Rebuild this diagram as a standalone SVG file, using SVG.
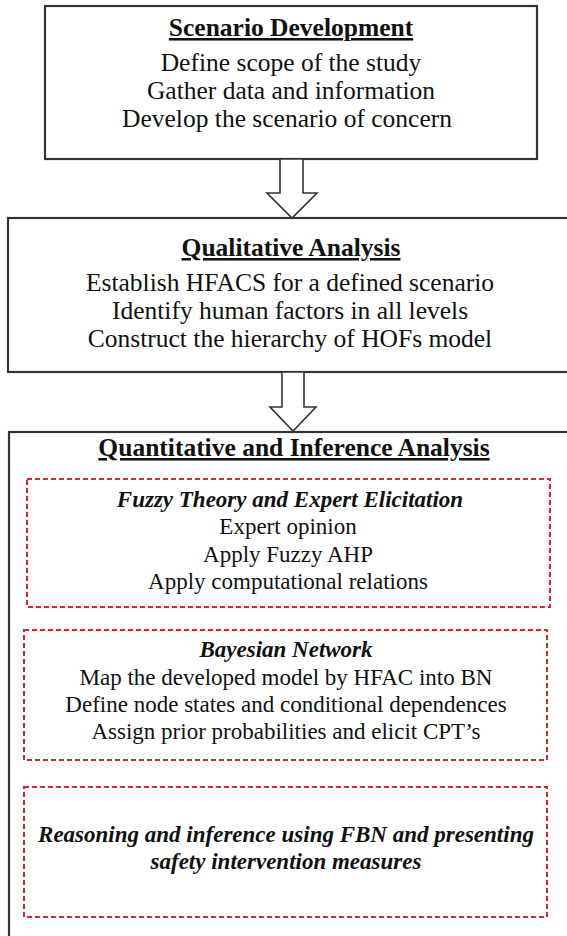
<svg xmlns="http://www.w3.org/2000/svg" width="567" height="936" viewBox="0 0 567 936">
  <style>
    .box { fill: #ffffff; stroke: #333333; stroke-width: 2.2; }
    .sub { fill: none; stroke: #d8282e; stroke-width: 2; stroke-dasharray: 5 3; }
    .arrow { fill: #ffffff; stroke: #333333; stroke-width: 1.6; stroke-linejoin: miter; }
    text { font-family: "Liberation Serif", "Times New Roman", serif; fill: #111111; text-anchor: middle; }
    .t { font-size: 25.5px; }
    .h { font-size: 25.5px; font-weight: bold; text-decoration: underline; }
    .s { font-size: 23px; }
    .si { font-size: 23px; font-weight: bold; font-style: italic; }
  </style>
  <rect width="567" height="936" fill="#ffffff"/>

  <!-- stage 1 -->
  <g id="scenario-development">
    <rect class="box" x="45" y="6" width="492" height="153"/>
    <text class="h" x="291" y="36">Scenario Development</text>
    <text class="t" x="291" y="71">Define scope of the study</text>
    <text class="t" x="291" y="99">Gather data and information</text>
    <text class="t" x="287" y="127">Develop the scenario of concern</text>
  </g>

  <!-- stage 2 -->
  <g id="qualitative-analysis">
    <rect class="box" x="8" y="218" width="580" height="154"/>
    <text class="h" x="291" y="256">Qualitative Analysis</text>
    <text class="t" x="290" y="291">Establish HFACS for a defined scenario</text>
    <text class="t" x="290" y="319">Identify human factors in all levels</text>
    <text class="t" x="290" y="347">Construct the hierarchy of HOFs model</text>
  </g>

  <!-- stage 3 with its three sub-steps -->
  <g id="quantitative-inference-analysis">
    <rect class="box" x="9" y="432" width="580" height="530"/>
    <text class="h" x="294" y="456">Quantitative and Inference Analysis</text>
  </g>

  <g id="fuzzy-theory">
    <rect class="sub" x="27" y="479" width="523" height="128"/>
    <text class="si" x="290" y="507">Fuzzy Theory and Expert Elicitation</text>
    <text class="s" x="288" y="534">Expert opinion</text>
    <text class="s" x="288" y="562">Apply Fuzzy AHP</text>
    <text class="s" x="288" y="589">Apply computational relations</text>
  </g>

  <g id="bayesian-network">
    <rect class="sub" x="24" y="630" width="523" height="130"/>
    <text class="si" x="286" y="657">Bayesian Network</text>
    <text class="s" x="286" y="685">Map the developed model by HFAC into BN</text>
    <text class="s" x="286" y="712">Define node states and conditional dependences</text>
    <text class="s" x="286" y="739">Assign prior probabilities and elicit CPT’s</text>
  </g>

  <g id="reasoning-inference">
    <rect class="sub" x="24" y="787" width="523" height="130"/>
    <text class="si" x="286" y="842">Reasoning and inference using FBN and presenting</text>
    <text class="si" x="286" y="869">safety intervention measures</text>
  </g>

  <!-- block arrows between stages -->
  <g id="connectors">
    <polygon class="arrow" points="280,159 303,159 303,193 317,193 292,218 267,193 280,193"/>
    <polygon class="arrow" points="282,372 304,372 304,407 316,407 293,431 270,407 282,407"/>
  </g>
</svg>
